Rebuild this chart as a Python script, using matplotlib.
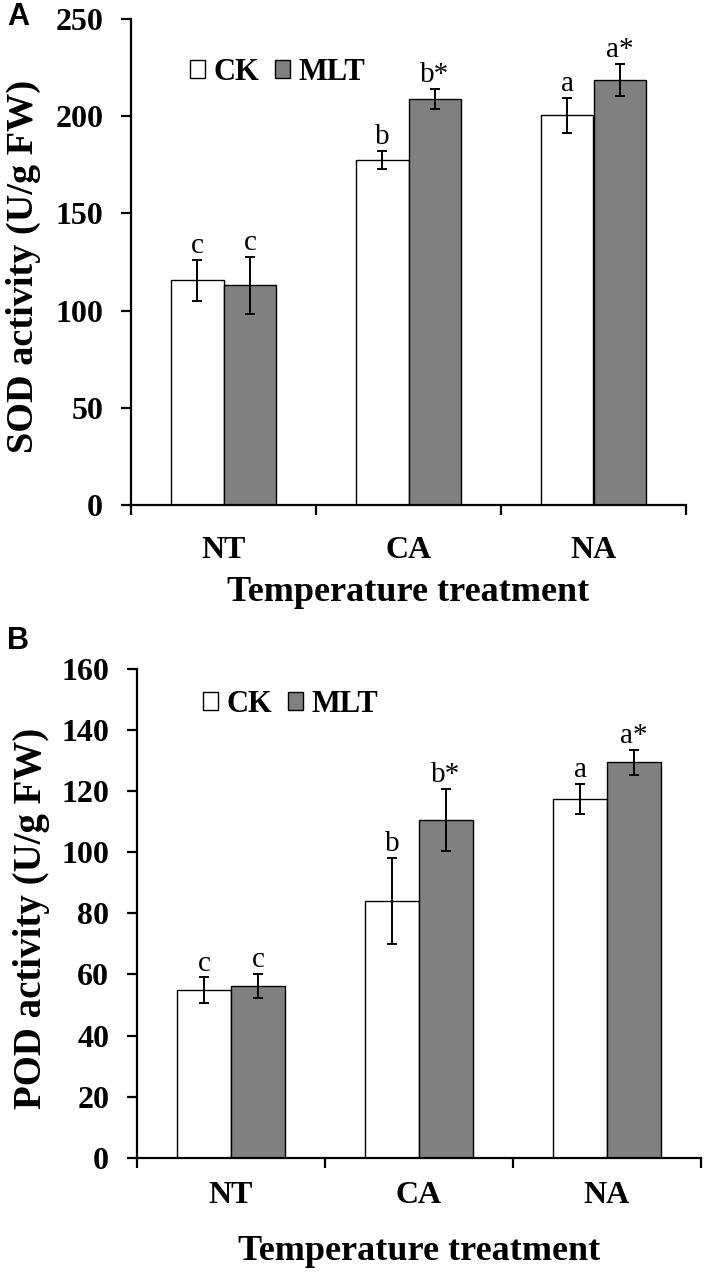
import numpy as np
import matplotlib
matplotlib.use("Agg")
import matplotlib.pyplot as plt
from matplotlib.patches import Patch

plt.rcParams['font.family'] = ['Liberation Serif', 'DejaVu Serif']

treatments = ["NT", "CA", "NA"]

# SOD activity (U/g FW)
sod_ck = [115.5, 177.5, 200.5]
sod_ck_err = [10.7, 4.8, 9.0]
sod_mlt = [113.0, 209.0, 218.5]
sod_mlt_err = [14.8, 5.2, 8.3]
sod_ck_letters = ["c", "b", "a"]
sod_mlt_letters = ["c", "b*", "a*"]

# POD activity (U/g FW)
pod_ck = [54.8, 84.0, 117.5]
pod_ck_err = [4.2, 14.0, 5.0]
pod_mlt = [56.3, 110.5, 129.5]
pod_mlt_err = [3.9, 10.2, 4.1]
pod_ck_letters = ["c", "b", "a"]
pod_mlt_letters = ["c", "b*", "a*"]

W, H = 708, 1286
fig = plt.figure(figsize=(W / 100, H / 100), dpi=100)


def px_rect(x0, x1, y_top, y_bot):
    return [x0 / W, 1 - y_bot / H, (x1 - x0) / W, (y_bot - y_top) / H]


def panel(ax, ck, ck_err, mlt, mlt_err, ck_lab, mlt_lab, ymax, ystep,
          ylabel, ylab_size, leg_xy, lab_pad, xlab_pad, ylab_x):
    x = np.arange(len(treatments))
    w = 0.286
    ax.bar(x - w / 2, ck, w, color="white", edgecolor="black", linewidth=1.0,
           zorder=2)
    ax.bar(x + w / 2, mlt, w, color="#808080", edgecolor="black",
           linewidth=1.0, zorder=2)
    ax.errorbar(x - w / 2, ck, yerr=ck_err, fmt="none", ecolor="black",
                elinewidth=1.4, capsize=3.5, capthick=1.4, zorder=3)
    ax.errorbar(x + w / 2, mlt, yerr=mlt_err, fmt="none", ecolor="black",
                elinewidth=1.4, capsize=3.5, capthick=1.4, zorder=3)
    for xi, v, e, t in zip(x - w / 2, ck, ck_err, ck_lab):
        ax.annotate(t, (xi, v + e), xytext=(0, 5), textcoords="offset points",
                    ha="center", va="baseline", fontsize=21)
    for xi, v, e, t in zip(x + w / 2, mlt, mlt_err, mlt_lab):
        ax.annotate(t, (xi, v + e), xytext=(0, 5), textcoords="offset points",
                    ha="center", va="baseline", fontsize=21)

    ax.set_xlim(-0.5, 2.5)
    ax.set_ylim(0, ymax)
    ax.set_yticks(np.arange(0, ymax + 1, ystep))
    ax.set_xticks(x)
    ax.set_xticklabels(treatments)
    ax.set_xticks([-0.5, 0.5, 1.5, 2.5], minor=True)
    ax.tick_params(axis="x", which="major", length=0, pad=lab_pad,
                   labelsize=23)
    ax.tick_params(axis="x", which="minor", length=7, width=1.6,
                   direction="out")
    ax.tick_params(axis="y", length=7, width=1.6, direction="out", pad=13,
                   labelsize=23)
    for lbl in ax.get_xticklabels() + ax.get_yticklabels():
        lbl.set_fontweight("bold")
    for s in ["top", "right"]:
        ax.spines[s].set_visible(False)
    for s in ["left", "bottom"]:
        ax.spines[s].set_linewidth(1.6)

    ax.set_xlabel("Temperature treatment", fontsize=26, fontweight="bold",
                  labelpad=xlab_pad)
    ax.set_ylabel(ylabel, fontsize=ylab_size, fontweight="bold")
    ax.yaxis.set_label_coords(ylab_x, 0.49)

    handles = [Patch(facecolor="white", edgecolor="black", linewidth=1.0),
               Patch(facecolor="#808080", edgecolor="black", linewidth=1.0)]
    ax.legend(handles, ["CK", "MLT"], ncol=2, frameon=False,
              loc="center left", bbox_to_anchor=leg_xy, borderpad=0,
              borderaxespad=0, handlelength=0.5, handleheight=0.5,
              handletextpad=0.28, columnspacing=0.5,
              prop={"weight": "bold", "size": 22})


ax1 = fig.add_axes(px_rect(131, 686, 19, 505))
panel(ax1, sod_ck, sod_ck_err, sod_mlt, sod_mlt_err, sod_ck_letters,
      sod_mlt_letters, 250, 50, "SOD activity (U/g FW)", 27.5, (0.106, 0.89),
      22, 8, -0.162)

ax2 = fig.add_axes(px_rect(137, 701, 669, 1157.7))
panel(ax2, pod_ck, pod_ck_err, pod_mlt, pod_mlt_err, pod_ck_letters,
      pod_mlt_letters, 160, 20, "POD activity (U/g FW)", 28, (0.117, 0.928),
      17, 18, -0.154)

fig.text(7 / W, 1 - 2 / H, "A", family="Liberation Sans", fontweight="bold",
         fontsize=22, ha="left", va="top")
fig.text(7 / W, 1 - 626 / H, "B", family="Liberation Sans", fontweight="bold",
         fontsize=22, ha="left", va="top")

fig.savefig("out.png", dpi=100)
